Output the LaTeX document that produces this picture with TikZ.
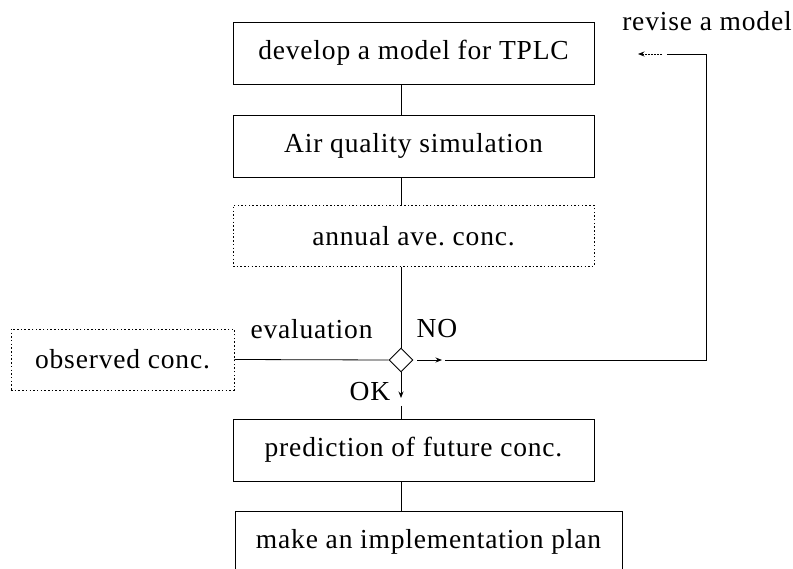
\documentclass[tikz,border=0pt]{standalone}
\usepackage{fontspec}
\setmainfont[LetterSpace=3]{Liberation Serif}
\usetikzlibrary{arrows.meta,shapes.geometric}
\begin{document}
\begin{tikzpicture}[x=1pt,y=-1pt,
  every node/.style={font=\fontsize{27.5}{32}\selectfont},
  solidbox/.style={draw, line width=0.9pt, minimum width=361pt, minimum height=62pt, inner sep=0pt},
  dotbox/.style={draw, line width=0.9pt, dash pattern=on 1.5pt off 2.2pt, minimum height=61pt, inner sep=0pt},
  conn/.style={line width=0.8pt},
  tip/.style={-{Stealth[length=6.5pt,width=5pt]}}]
\useasboundingbox (0,0) rectangle (793,569);
\clip (0,0) rectangle (793,569);
% boxes
\node[solidbox] (b1) at (413.5,53) {develop a model for TPLC};
\node[solidbox] (b2) at (413.5,146) {Air quality simulation};
\node[dotbox, minimum width=361pt] (b3) at (413.5,236) {annual ave.\ conc.};
\node[draw, diamond, line width=0.9pt, minimum width=24pt, minimum height=24pt, inner sep=0pt] (dia) at (401,360) {};
\node[dotbox, minimum width=223pt] (obs) at (122.5,359.5) {observed conc.};
\node[solidbox] (b4) at (413.5,450) {prediction of future conc.};
\node[solidbox, minimum width=387pt] (b5) at (428.5,542) {make an implementation plan};
% labels
\node (ev) at (311.5,329) {evaluation};
\node (no) at (437,329) {NO};
\node (ok) at (370,392) {OK};
\node (rev) at (707,21) {revise a model};
% coordinates
\coordinate (noend) at (442,360);
\coordinate (r1) at (445,360);
\coordinate (r2) at (706,54);
\coordinate (r3) at (667,54);
\coordinate (a1) at (662,54);
\coordinate (a2) at (638,54);
\coordinate (okend) at (401,398);
\coordinate (okline) at (401,406);
% connectors
\draw[conn] (b1.south -| dia) -- (b2.north -| dia);
\draw[conn] (b2.south -| dia) -- (b3.north -| dia);
\draw[conn] (b3.south -| dia) -- (dia.north);
\draw[conn] (obs.east) -- (dia.west);
\draw[conn,tip,shorten <=4pt] (dia.east) -- (noend);
\draw[conn] (r1) -| (r2) -- (r3);
\draw[conn,tip,dash pattern=on 2pt off 1pt] (a1) -- (a2);
\draw[conn,tip] (dia.south) -- (okend);
\draw[conn] (okline) -- (b4.north -| dia);
\draw[conn] (b4.south -| dia) -- (b5.north -| dia);
\end{tikzpicture}
\end{document}
